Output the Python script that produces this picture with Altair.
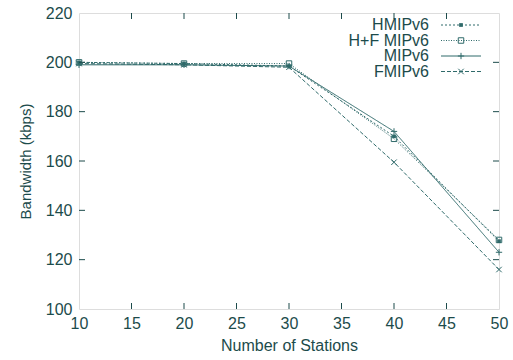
import altair as alt
import pandas as pd

# Bandwidth per scheme vs. number of stations
stations = [10, 20, 30, 40, 50]
hmipv6 = [200, 199.5, 198.5, 170, 127.5]
hf_mipv6 = [200, 199.5, 199.5, 169, 128]
mipv6 = [199, 199, 198.5, 172, 123]
fmipv6 = [199.5, 199, 198, 159.5, 116]

series_names = ["HMIPv6", "H+F MIPv6", "MIPv6", "FMIPv6"]
series_values = [hmipv6, hf_mipv6, mipv6, fmipv6]

x_ticks = [10, 15, 20, 25, 30, 35, 40, 45, 50]
y_ticks = [100, 120, 140, 160, 180, 200, 220]

INK = "#1c4b4b"
LINE = "#2f6a6a"
W, H = 420, 296
FONT = "Liberation Sans"

PLUS = "M-1,0H1M0,-1V1"
XMARK = "M-1,-1L1,1M-1,1L1,-1"
styles = {
    "HMIPv6": dict(dash=[2, 2], shape="square", filled=True, size=14),
    "H+F MIPv6": dict(dash=[1, 1.5], shape="square", filled=False, size=30),
    "MIPv6": dict(dash=[1, 0], shape=PLUS, filled=False, size=40),
    "FMIPv6": dict(dash=[4, 2], shape=XMARK, filled=False, size=30),
}

x_scale = alt.Scale(domain=[10, 50], nice=False, zero=False)
y_scale = alt.Scale(domain=[100, 220], nice=False, zero=False)

x_axis = alt.Axis(values=x_ticks, title="Number of Stations", ticks=False, domain=False,
                  grid=False, labelPadding=6, titlePadding=6, labelFontSize=16,
                  titleFontSize=16, labelColor=INK, titleColor=INK, labelFlush=False,
                  labelFont=FONT, titleFont=FONT, titleFontWeight="normal")
y_axis = alt.Axis(values=y_ticks, title="Bandwidth (kbps)", ticks=False, domain=False,
                  grid=False, labelPadding=7, titlePadding=12, labelFontSize=16,
                  titleFontSize=15, labelColor=INK, titleColor=INK, labelFlush=False,
                  labelFont=FONT, titleFont=FONT, titleFontWeight="normal")


def xq(field):
    return alt.X(field, scale=x_scale, axis=x_axis)


def yq(field):
    return alt.Y(field, scale=y_scale, axis=y_axis)


layers = []
for i, (name, vals) in enumerate(zip(series_names, series_values)):
    st = styles[name]
    df = pd.DataFrame({"stations": stations, "bw": vals, "series": name})
    base = alt.Chart(df)
    enc = dict(x=xq("stations:Q"), y=yq("bw:Q"))
    layers.append(base.mark_line(color=LINE, strokeWidth=1, strokeDash=st["dash"]).encode(**enc))
    layers.append(base.mark_point(shape=st["shape"], filled=st["filled"], size=st["size"],
                                  color=LINE, strokeWidth=1, opacity=1).encode(**enc))

    # legend row: label to the left, line sample with marker on the right
    ly = 12 + i * 15.5
    leg = alt.Chart(pd.DataFrame({"series": [name]}))
    layers.append(leg.mark_text(align="right", baseline="middle", fontSize=16, font=FONT,
                                color=INK).encode(text="series:N", x=alt.value(350),
                                                  y=alt.value(ly)))
    layers.append(leg.mark_rule(color=LINE, strokeWidth=1, strokeDash=st["dash"]).encode(
        x=alt.value(362), x2=alt.value(402), y=alt.value(ly)))
    layers.append(leg.mark_point(shape=st["shape"], filled=st["filled"], size=st["size"],
                                 color=LINE, strokeWidth=1, opacity=1).encode(
        x=alt.value(382), y=alt.value(ly)))

# inward ticks on all four sides (gnuplot style)
xt = alt.Chart(pd.DataFrame({"t": x_ticks[1:-1]}))
yt = alt.Chart(pd.DataFrame({"t": y_ticks[1:-1]}))
tick_len = 6
layers.append(xt.mark_rule(color=INK).encode(x=xq("t:Q"),
                                             y=alt.value(H), y2=alt.value(H - tick_len)))
layers.append(xt.mark_rule(color=INK).encode(x=xq("t:Q"),
                                             y=alt.value(0), y2=alt.value(tick_len)))
layers.append(yt.mark_rule(color=INK).encode(y=yq("t:Q"),
                                             x=alt.value(0), x2=alt.value(tick_len)))
layers.append(yt.mark_rule(color=INK).encode(y=yq("t:Q"),
                                             x=alt.value(W), x2=alt.value(W - tick_len)))

chart = alt.layer(*layers).properties(
    width=W, height=H,
    autosize=alt.AutoSizeParams(type="none"),
    padding={"left": 79, "top": 13, "right": 14, "bottom": 51},
).configure_view(stroke=INK, strokeWidth=1.2).configure(background="white")

chart.save("out.html", embed_options={"renderer": "svg", "actions": False})
